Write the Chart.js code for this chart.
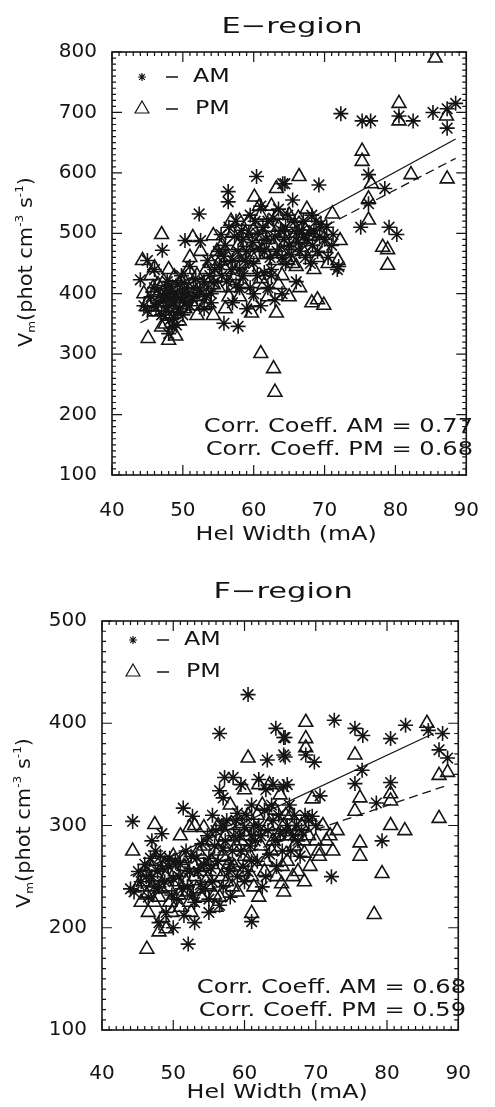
<!DOCTYPE html>
<html>
<head>
<meta charset="utf-8">
<script src="https://cdn.jsdelivr.net/npm/chart.js@4/dist/chart.umd.min.js"></script>
<style>
  html, body { margin: 0; padding: 0; background: #fff; }
  #wrap { position: relative; width: 495px; height: 1107px; }
  .box { position: absolute; left: 0; width: 495px; }
</style>
</head>
<body>
<div id="wrap">
  <div class="box" style="top:0;height:550px"><canvas id="eChart"></canvas></div>
  <div class="box" style="top:550px;height:557px"><canvas id="fChart"></canvas></div>
</div>
<script>
// E-region, morning points [hel width, Vm]
const eAm = [
  [72.3,698],[75.3,686],[76.5,686],[80.5,694],[82.5,686],[85.3,700],[87.3,706],[88.5,715],[87.3,674],
  [76.2,597],[78.5,574],[76.2,549],[75.1,510],[79.1,510],[80.2,498],[69.2,580],[64.4,582],[68.2,530],
  [71.2,498],[71.8,440],[60.4,594],[56.4,569],[56.4,552],[64.1,582],[52.3,532],[50.3,488],[52.5,488],
  [47.1,472],[44,423],[55.4,498],[55.8,351],[57.8,346],[48,334],
  [44.5,380],[45,372],[45.5,395],[46,410],[46.5,385],[47,365],[47.5,400],[47.8,420],[48,380],[48.3,392],
  [48.5,405],[48.7,360],[49,395],[49.2,415],[49.5,375],[49.8,430],[50,400],[50.5,385],[51,445],[51.5,410],
  [52,395],[53,420],[53.5,455],[54,400],[54.5,440],[55,470],[55.5,430],[56,480],[56.5,510],[57,455],
  [57.5,520],[58,440],[58.5,490],[59,470],[59.5,530],[60,450],[60.5,500],[61,545],[61.5,470],[62,520],
  [62.5,430],[63,495],[63.5,540],[64,460],[64.5,510],[65,480],[65.5,555],[66,500],[66.5,470],[67,520],
  [67.5,490],[68,450],[68.5,505],[69,470],[69.5,515],[70,490],[70.5,460],[72,445],[60,400],[62,410],
  [63,390],[58,410],[57,385],[59,375],[61,380],[64,400],[66,420],[54,385],[53,375],[51,380],[46,440],
  [45,455],[50,365],[48.5,345],
  [46.2,378],[46.8,398],[47.3,388],[47.6,372],[48.2,402],[48.8,385],[49.3,370],[49.6,392],[48.1,356],
  [49.1,348],[47.9,412],[50.2,418],[50.8,402],[51.3,392],[51.8,425],[52.4,405],[53.3,398],[53.8,430],
  [54.3,418],[55.2,448],[55.8,462],[56.2,420],[56.8,440],[57.3,495],[57.8,470],[58.3,505],[58.8,455],
  [59.3,500],[59.8,485],[60.2,520],[60.8,475],[61.3,510],[61.8,490],[62.3,460],[62.8,525],[63.3,470],
  [63.8,505],[64.3,490],[64.8,530],[65.3,465],[65.8,520],[66.3,485],[66.8,505],[67.3,460],[67.8,500],
  [68.3,480],[68.8,520],[69.3,495],[70.3,510],[71,480],[58.5,430],[60.5,430],[62.5,440],[64.5,450],
  [61.5,435],[59.5,410],[57.5,415]
];
// E-region, afternoon points
const ePm = [
  [85.6,790],[80.5,715],[80.5,686],[87.2,694],[75.3,636],[75.3,619],[76.6,582],[82.2,597],[87.3,590],
  [76.2,557],[76.2,522],[78.2,477],[66.4,594],[71.1,532],[72.2,488],[78.9,473],[78.9,447],[71.9,455],
  [60.1,560],[63.2,574],[47,498],[51.4,493],[54.3,496],[44.3,455],[46,443],[45.1,326],[48,323],[61,301],
  [62.8,276],[63,237],[52,364],[54.3,364],[59.7,368],[63.2,368],[68.2,385],[69.9,381],[69,390],
  [44.5,400],[45,385],[45.5,430],[46,370],[46.5,415],[47,395],[47.5,350],[48,440],[48.5,375],[49,410],
  [49.5,355],[50,425],[50.5,395],[51,460],[51.5,380],[52,430],[52.5,470],[53,405],[53.5,385],[54,450],
  [55,410],[55.5,480],[56,440],[56.5,395],[57,500],[57.5,460],[58,520],[58.5,415],[59,485],[59.5,440],
  [60,505],[60.5,465],[61,530],[61.5,415],[62,490],[62.5,545],[63,455],[63.5,510],[64,430],[64.5,485],
  [65,530],[65.5,450],[66,500],[66.5,410],[67,470],[67.5,540],[68,495],[68.5,440],[69,460],[70,475],
  [56,375],[58,395],[60,385],[62,395],[65,395],[47,345],[49,330],[53,380],
  [45.8,410],[46.3,395],[46.8,378],[47.3,420],[47.8,365],[48.3,398],[48.8,428],[49.3,385],[49.8,400],
  [50.3,375],[50.8,440],[51.3,415],[52.3,395],[53.3,440],[54.3,415],[54.8,470],[55.3,455],[56.3,460],
  [56.8,520],[57.3,430],[57.8,480],[58.3,450],[58.8,500],[59.3,520],[59.8,460],[60.3,480],[60.8,545],
  [61.3,495],[61.8,465],[62.3,510],[62.8,480],[63.3,530],[63.8,470],[64.3,500],[64.8,455],[65.3,510],
  [65.8,480],[66.3,525],[66.8,490],[67.3,505],[68.3,470],[69.5,500],[70.5,450],[57,410],[61,425],
  [63.5,415],[66,445]
];
// F-region, morning points
const fAm = [
  [60.5,428],[56.5,390],[64.4,395],[65.5,386],[63.2,364],[65.5,369],[58.4,347],[57.2,347],[51.4,317],
  [52.7,309],[44.3,304],[48.4,292],[57,327],[56.5,334],[65.7,386],[72.6,403],[75.5,395],[76.6,388],
  [80.5,385],[82.6,398],[85.8,393],[87.8,390],[87.3,374],[88.5,366],[65.7,367],[68.6,369],[69.8,362],
  [76.5,354],[75.5,341],[80.5,342],[78.5,322],[70.6,329],[69.5,309],[79.3,285],[72.2,250],[45.1,255],
  [44,238],[52.1,184],[61,206],
  [45.5,245],[46,262],[46.5,230],[47,250],[47.5,275],[48,240],[48.5,258],[49,215],[49.5,268],[50,248],
  [50.5,228],[51,262],[51.5,212],[52,240],[52.5,270],[53,225],[53.5,255],[54,282],[54.5,238],[55,268],
  [55.5,245],[56,295],[56.5,222],[57,278],[57.5,305],[58,262],[58.5,290],[59,312],[59.5,275],[60,298],
  [60.5,255],[61,320],[61.5,285],[62,300],[62.5,240],[63,335],[63.5,272],[64,305],[64.5,260],[65,292],
  [65.5,338],[66,300],[66.5,275],[67,310],[67.5,285],[68,295],[69,305],[70,300],[58,230],[60,245],
  [55,215],[53,205],[48,205],[50,200],[59.5,340],[62,345],[64,340],[61,290],[57,300],[47,285],
  [44.5,235],[55.5,310],[66,340],
  [46.2,250],[46.8,268],[47.3,240],[47.8,255],[48.2,270],[48.8,245],[49.3,260],[49.8,232],[50.3,265],
  [50.8,250],[51.3,238],[51.8,275],[52.3,255],[52.8,232],[53.3,268],[53.8,242],[54.3,262],[54.8,290],
  [55.3,258],[55.8,280],[56.3,265],[56.8,300],[57.3,285],[57.8,255],[58.3,275],[58.8,305],[59.3,290],
  [59.8,260],[60.3,310],[60.8,280],[61.3,300],[61.8,265],[62.3,290],[62.8,315],[63.3,295],[63.8,320],
  [64.3,285],[64.8,310],[65.3,275],[65.8,295],[66.3,320],[66.8,290],[67.3,300],[67.8,270],[68.5,310],
  [59,250],[57,240],[63,250],[61,265],[55,228]
];
// F-region, afternoon points
const fPm = [
  [60.5,366],[47.4,301],[44.3,275],[52.3,298],[54.3,298],[56.3,300],[68.6,401],[85.6,400],[87.3,349],
  [88.5,352],[68.6,385],[68.6,376],[75.5,369],[80.5,331],[76.2,327],[75.5,314],[80.5,324],[87.3,307],
  [69.5,326],[80.5,300],[82.5,295],[76.2,283],[76.2,270],[79.3,253],[78.2,213],[68.4,245],[69.2,260],
  [70.4,275],[72.4,275],[68.4,273],[65.5,235],[65.2,243],[46.3,179],[61,214],[48,196],[49,199],
  [45,240],[45.5,225],[46,255],[46.5,215],[47,240],[47.5,265],[48,230],[48.5,210],[49,250],[49.5,225],
  [50,270],[50.5,245],[51,220],[51.5,260],[52,235],[52.5,215],[53,250],[53.5,275],[54,230],[54.5,260],
  [55,240],[55.5,285],[56,255],[56.5,230],[57,270],[57.5,245],[58,300],[58.5,260],[59,235],[59.5,285],
  [60,270],[60.5,310],[61,250],[61.5,295],[62,230],[62.5,320],[63,265],[63.5,340],[64,285],[64.5,250],
  [65,330],[65.5,300],[66,265],[66.5,310],[67,280],[67.5,255],[68,300],[69,290],[70,285],[71,300],
  [72,290],[73,295],[60,335],[62,340],[58,320],[56,220],[51,290],[53,300],
  [45.8,245],[46.3,232],[46.8,260],[47.3,225],[47.8,250],[48.3,238],[48.8,262],[49.3,240],[49.8,215],
  [50.3,255],[50.8,232],[51.3,268],[51.8,245],[52.3,225],[52.8,262],[53.3,238],[53.8,255],[54.3,280],
  [54.8,248],[55.3,265],[55.8,232],[56.3,275],[56.8,250],[57.3,290],[57.8,262],[58.3,240],[58.8,280],
  [59.3,300],[59.8,255],[60.3,290],[60.8,270],[61.3,240],[61.8,310],[62.3,280],[62.8,255],[63.3,300],
  [63.8,275],[64.3,315],[64.8,290],[65.3,260],[65.8,310],[66.3,290],[66.8,250],[67.3,295],[68.3,285],
  [70.5,270],[71.5,285]
];

// fitted lines, end points
const eAmFit = [[44, 371], [88.5, 656]];
const ePmFit = [[44, 352], [88.5, 624]];
const fAmFit = [[44, 251], [86.5, 390]];
const fPmFit = [[44, 235], [88.3, 339]];

const xTicks = [40, 50, 60, 70, 80, 90];
const eYTicks = [100, 200, 300, 400, 500, 600, 700, 800];
const fYTicks = [100, 200, 300, 400, 500];

const ink = '#141414';
const family = '"DejaVu Sans", sans-serif';

// text stretched sideways, the plotter font is much wider than DejaVu
function wideText(ctx, str, x, y, size, stretch, align) {
  ctx.save();
  ctx.font = size + 'px ' + family;
  ctx.textBaseline = 'middle';
  const w = ctx.measureText(str).width * stretch;
  let left = x;
  if (align === 'center') left = x - w / 2;
  if (align === 'right') left = x - w;
  ctx.translate(left, y);
  ctx.scale(stretch, 1);
  ctx.textAlign = 'left';
  ctx.fillText(str, 0, 0);
  ctx.restore();
}

function yTitle(ctx, cx, cy) {
  const parts = [
    ['V', 19, 0], ['m', 11, 5], ['(phot cm', 19, 0], ['-3', 11, -7],
    [' s', 19, 0], ['-1', 11, -7], [')', 19, 0]
  ];
  ctx.save();
  ctx.translate(cx, cy);
  ctx.rotate(-Math.PI / 2);
  ctx.scale(1.1, 1);
  ctx.textBaseline = 'middle';
  let total = 0;
  parts.forEach(p => { ctx.font = p[1] + 'px ' + family; total += ctx.measureText(p[0]).width; });
  let pos = -total / 2;
  parts.forEach(p => {
    ctx.font = p[1] + 'px ' + family;
    ctx.fillText(p[0], pos, p[2]);
    pos += ctx.measureText(p[0]).width;
  });
  ctx.restore();
}

function drawStar(ctx, x, y, r) {
  ctx.beginPath();
  for (let k = 0; k < 4; k++) {
    const a = k * Math.PI / 4;
    ctx.moveTo(x - Math.cos(a) * r, y - Math.sin(a) * r);
    ctx.lineTo(x + Math.cos(a) * r, y + Math.sin(a) * r);
  }
  ctx.stroke();
}

function drawTri(ctx, x, y, r) {
  ctx.beginPath();
  ctx.moveTo(x, y - r);
  ctx.lineTo(x + r * 0.866, y + r / 2);
  ctx.lineTo(x - r * 0.866, y + r / 2);
  ctx.closePath();
  ctx.stroke();
}

const framePlugin = {
  id: 'frame',
  afterDraw(chart, args, o) {
    const { ctx, chartArea: a, scales: { x, y } } = chart;
    ctx.save();
    ctx.strokeStyle = ink;
    ctx.fillStyle = ink;
    ctx.lineWidth = 1.6;
    ctx.strokeRect(a.left, a.top, a.right - a.left, a.bottom - a.top);

    // plotter style minor and major ticks on all four sides
    ctx.lineWidth = 1.2;
    ctx.beginPath();
    for (let v = 40; v <= 90; v++) {
      const px = x.getPixelForValue(v);
      const len = v % 10 === 0 ? 10 : 4;
      ctx.moveTo(px, a.bottom); ctx.lineTo(px, a.bottom - len);
      ctx.moveTo(px, a.top); ctx.lineTo(px, a.top + len);
    }
    for (let v = y.min; v <= y.max; v += 10) {
      const py = y.getPixelForValue(v);
      const len = v % 100 === 0 ? 10 : 4;
      ctx.moveTo(a.left, py); ctx.lineTo(a.left + len, py);
      ctx.moveTo(a.right, py); ctx.lineTo(a.right - len, py);
    }
    ctx.stroke();

    // titles
    const mid = (a.left + a.right) / 2;
    wideText(ctx, o.title, mid + 3, o.titleY, 21, 1.45, 'center');
    wideText(ctx, 'Hel Width (mA)', mid - 3, o.xTitleY, 19, 1.25, 'center');
    yTitle(ctx, o.yTitleX, o.yTitleY);

    // legend
    ctx.lineWidth = 1.2;
    drawStar(ctx, o.legX, o.legY, 4);
    drawTri(ctx, o.legX, o.legY + 32, 8);
    ctx.lineWidth = 1.5;
    ctx.beginPath();
    ctx.moveTo(o.legX + 24, o.legY); ctx.lineTo(o.legX + 36, o.legY);
    ctx.moveTo(o.legX + 24, o.legY + 32); ctx.lineTo(o.legX + 36, o.legY + 32);
    ctx.stroke();
    wideText(ctx, 'AM', o.legX + 51, o.legY, 19, 1.25, 'left');
    wideText(ctx, 'PM', o.legX + 53, o.legY + 32, 19, 1.25, 'left');

    // correlation text
    wideText(ctx, o.corr[0], o.corrX, o.corrY, 19, 1.27, 'right');
    wideText(ctx, o.corr[1], o.corrX, o.corrY + 23, 19, 1.27, 'right');
    ctx.restore();
  }
};

function toXY(list) {
  return list.map(([x, y]) => ({ x, y }));
}

function makeChart(id, am, pm, amFit, pmFit, yTicks, cfg) {
  return new Chart(document.getElementById(id), {
    type: 'scatter',
    data: {
      datasets: [
        {
          label: 'AM', data: toXY(am), pointStyle: 'star', pointRadius: 7.5,
          borderColor: ink, backgroundColor: 'rgba(0,0,0,0)', borderWidth: 1.6
        },
        {
          label: 'PM', data: toXY(pm), pointStyle: 'triangle', pointRadius: 8,
          borderColor: ink, backgroundColor: 'rgba(0,0,0,0)', borderWidth: 1.6
        },
        {
          type: 'line', label: 'AM fit', data: toXY(amFit), borderColor: ink,
          borderWidth: 1.3, pointRadius: 0, fill: false
        },
        {
          type: 'line', label: 'PM fit', data: toXY(pmFit), borderColor: ink,
          borderWidth: 1.3, borderDash: [9, 5], pointRadius: 0, fill: false
        }
      ]
    },
    options: {
      responsive: true,
      maintainAspectRatio: false,
      animation: false,
      layout: { padding: { top: cfg.padTop, right: cfg.padRight, left: 0, bottom: 0 } },
      plugins: { legend: { display: false }, tooltip: { enabled: false }, frame: cfg },
      scales: {
        x: {
          type: 'linear', min: 40, max: 90,
          grid: { display: false }, border: { display: false },
          afterBuildTicks: s => { s.ticks = xTicks.map(v => ({ value: v })); },
          ticks: { color: ink, padding: cfg.xPad, maxRotation: 0, font: { family, size: 20 } },
          afterFit: s => { s.height = cfg.xH; }
        },
        y: {
          type: 'linear', min: yTicks[0], max: yTicks[yTicks.length - 1],
          grid: { display: false }, border: { display: false },
          afterBuildTicks: s => { s.ticks = yTicks.map(v => ({ value: v })); },
          ticks: { color: ink, padding: 7, font: { family, size: 20 } },
          afterFit: s => { s.width = cfg.yW; }
        }
      }
    },
    plugins: [framePlugin]
  });
}

makeChart('eChart', eAm, ePm, eAmFit, ePmFit, eYTicks, {
  padTop: 52, padRight: 11, yW: 112, xH: 75, xPad: 16,
  title: 'E\u2212region', titleY: 28, xTitleY: 535, yTitleX: 27, yTitleY: 262,
  legX: 142, legY: 77,
  corr: ['Corr. Coeff. AM = 0.77', 'Corr. Coeff. PM = 0.68'], corrX: 473, corrY: 427
});

makeChart('fChart', fAm, fPm, fAmFit, fPmFit, fYTicks, {
  padTop: 71, padRight: 19, yW: 102, xH: 77, xPad: 24,
  title: 'F\u2212region', titleY: 43, xTitleY: 543, yTitleX: 25, yTitleY: 273,
  legX: 133, legY: 90,
  corr: ['Corr. Coeff. AM = 0.68', 'Corr. Coeff. PM = 0.59'], corrX: 466, corrY: 438
});
</script>
</body>
</html>
